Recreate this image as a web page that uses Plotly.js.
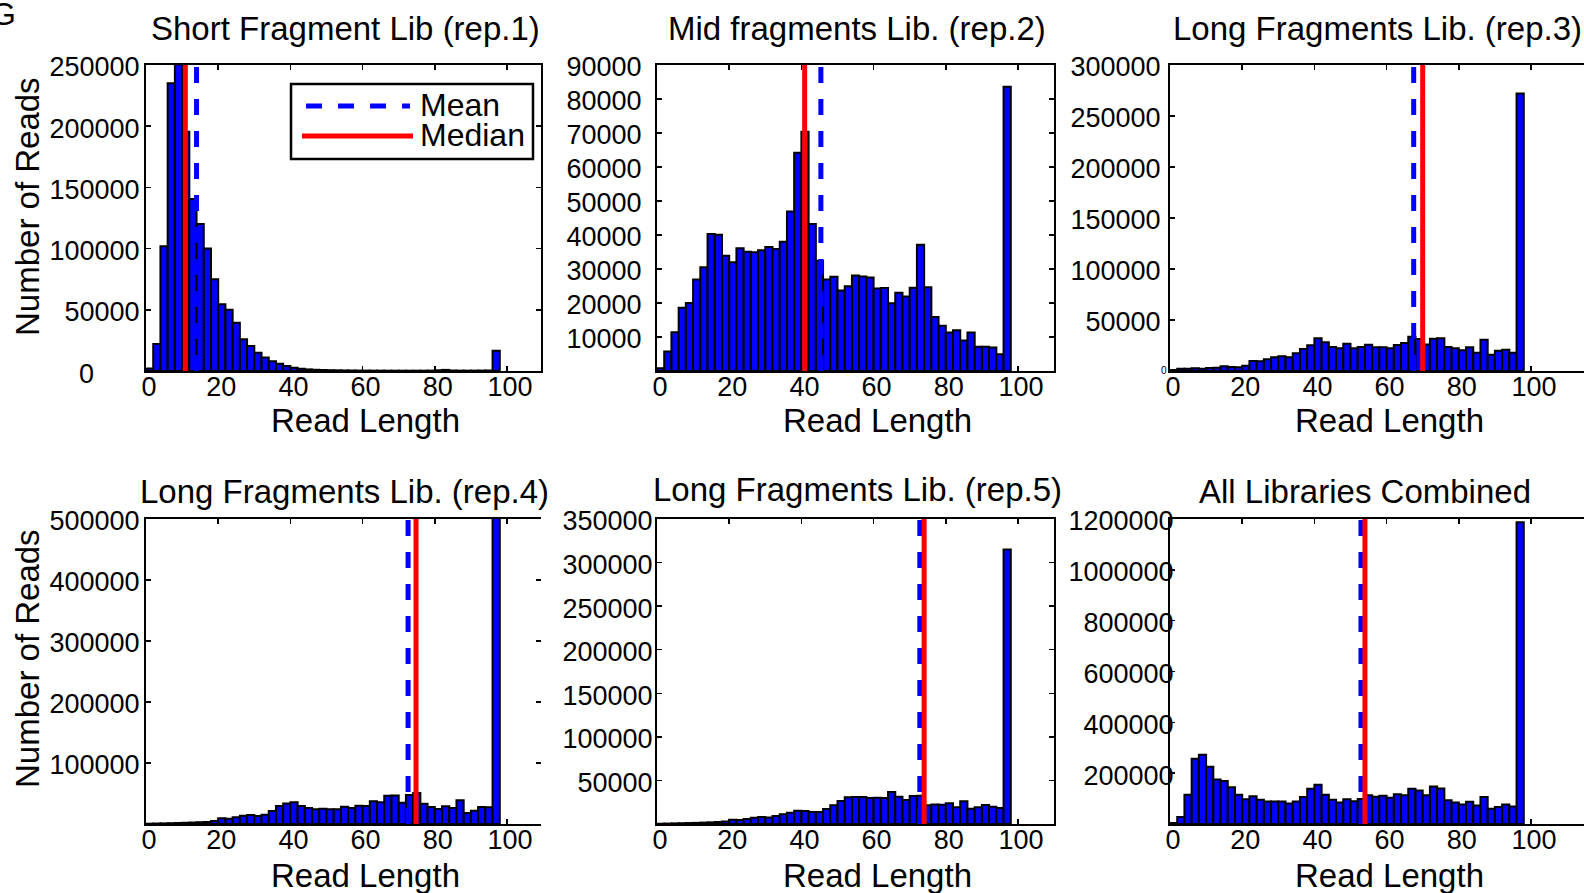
<!DOCTYPE html>
<html>
<head>
<meta charset="utf-8">
<script src="https://cdn.plot.ly/plotly-3.0.1.min.js"></script>
<style>
html, body { margin: 0; padding: 0; background: #ffffff; }
#chart { width: 1584px; height: 893px; }
</style>
</head>
<body>
<div id="chart"></div>
<script>
// ---------------- DATA ----------------
const binCenters = [1, 3, 5, 7, 9, 11, 13, 15, 17, 19, 21, 23, 25, 27, 29, 31, 33, 35, 37, 39,
  41, 43, 45, 47, 49, 51, 53, 55, 57, 59, 61, 63, 65, 67, 69, 71, 73, 75, 77, 79,
  81, 83, 85, 87, 89, 91, 93, 95, 97];

const panelTitles = [
  "Short Fragment Lib (rep.1)",
  "Mid fragments Lib. (rep.2)",
  "Long Fragments Lib. (rep.3)",
  "Long Fragments Lib. (rep.4)",
  "Long Fragments Lib. (rep.5)",
  "All Libraries Combined"
];
const xTitleText = "Read Length";
const yTitleText = "Number of Reads";
const legendLabels = ["Mean", "Median"];

const rep1Counts = [2000, 22000, 102000, 235000, 250500, 195500, 140500, 120000, 100000, 75000,
  54500, 50000, 39500, 26000, 20500, 15000, 11000, 8000, 6000, 4000,
  2700, 1900, 1300, 1000, 800, 650, 550, 450, 400, 350,
  320, 300, 280, 260, 250, 250, 240, 240, 250, 300,
  600, 900, 400, 300, 300, 300, 350, 400, 16600];

const rep2Counts = [800, 5700, 11400, 18600, 20000, 26900, 30500, 40300, 40100, 33900,
  32000, 36100, 35100, 34900, 35500, 36500, 35900, 38000, 46900, 64200,
  70400, 43200, 32400, 26900, 27700, 23700, 24900, 28100, 27800, 27500,
  24300, 24400, 19900, 23000, 21900, 24500, 37100, 24600, 15900, 13300,
  11300, 12000, 9000, 11300, 7100, 7100, 6900, 4900, 83600];

const rep3Counts = [1000, 2300, 2300, 2600, 2300, 3000, 3300, 4600, 3900, 3600,
  5200, 9800, 9500, 11400, 13400, 14400, 13400, 17300, 21600, 25200,
  32000, 28100, 23500, 22200, 26800, 22200, 23500, 25800, 23200, 23200,
  22200, 25500, 27500, 33700, 31400, 26100, 31700, 32000, 23500, 22200,
  20300, 23200, 18000, 30700, 16000, 19900, 20900, 18000, 272000];

const rep4Counts = [500, 800, 1000, 1300, 1600, 2000, 2400, 2900, 3300, 4800,
  9300, 8700, 10900, 13600, 14700, 13000, 15300, 21300, 29500, 33500,
  35500, 29500, 26200, 24000, 25100, 24000, 24000, 28400, 26200, 30000,
  29500, 37100, 35500, 46400, 46900, 34900, 47500, 50800, 33300, 27800,
  24600, 28900, 26200, 38800, 18000, 21800, 27800, 27300, 510000];

const rep5Counts = [300, 500, 700, 900, 1100, 1300, 1600, 1900, 2300, 2900,
  5000, 4600, 5700, 7300, 8000, 7600, 9200, 11100, 13000, 15300,
  14900, 13800, 13800, 17200, 21400, 26400, 30600, 31000, 31000, 29800,
  30200, 29800, 36700, 31300, 27500, 32100, 32500, 21400, 22500, 22200,
  23700, 19100, 26000, 17600, 19100, 21800, 19900, 18500, 315000];

const combinedCounts = [4000, 27500, 115000, 257000, 272000, 225000, 175500, 169000, 145000, 115000,
  97000, 109000, 95600, 89000, 89000, 89000, 81000, 89000, 106000, 139000,
  154600, 115000, 95600, 85000, 97000, 90000, 98000, 112700, 107000, 111000,
  103000, 116600, 112700, 139000, 132000, 112700, 148000, 140000, 93000, 85000,
  77000, 88000, 73000, 106000, 60000, 67000, 77000, 69000, 1187000];

const meanLengths   = [14.0, 45.4, 67.5, 72.6, 72.8, 52.9];
const medianLengths = [10.9, 40.9, 70.0, 74.8, 74.0, 54.0];

const yMaxValues = [250000, 90000, 300000, 500000, 350000, 1200000];
const yTickValues = [
  [50000, 100000, 150000, 200000, 250000],
  [10000, 20000, 30000, 40000, 50000, 60000, 70000, 80000, 90000],
  [50000, 100000, 150000, 200000, 250000, 300000],
  [100000, 200000, 300000, 400000, 500000],
  [50000, 100000, 150000, 200000, 250000, 300000, 350000],
  [200000, 400000, 600000, 800000, 1000000, 1200000]
];
const xTickValues = [0, 20, 40, 60, 80, 100];

const seriesCounts = [rep1Counts, rep2Counts, rep3Counts, rep4Counts, rep5Counts, combinedCounts];

// ---------------- LAYOUT ----------------
const W = 1584, H = 893;
const FONT = "Liberation Sans, Arial, Helvetica, sans-serif";
const PX_PER_UNIT = 3.61;
const colPx = [[146, 541], [657, 1054], [1170, 1584]];
const rowPx = [[65, 371], [519, 824]];
const titleCenterX = [345.5, 856.6, 1377.5, 344, 857.6, 1365.3];
const titleCenterY = [29, 29, 29, 491, 489, 491];
const xTitleCenterX = [365, 877, 1389];
const xTitleCenterY = [420, 875];
const yTitleCenter = [[27, 207], [27, 659]];
const yLabelStandoff = [-1, 8, 2, -1, -3, -11];

const px = v => v / W;
const py = v => 1 - v / H;

const traces = [];
const layout = {
  width: W, height: H,
  margin: {l: 0, r: 0, t: 0, b: 0, pad: 0},
  paper_bgcolor: "#ffffff",
  plot_bgcolor: "#ffffff",
  bargap: 0,
  barmode: "overlay",
  font: {family: FONT, color: "#000000"},
  showlegend: false,
  annotations: [],
  shapes: []
};

for (let i = 0; i < 6; i++) {
  const n = i + 1;
  const r = Math.floor(i / 3), c = i % 3;
  const sfx = n === 1 ? "" : String(n);
  const xa = "x" + sfx, ya = "y" + sfx;
  const xKey = "xaxis" + sfx, yKey = "yaxis" + sfx;

  traces.push({
    type: "bar", x: binCenters, y: seriesCounts[i], width: 2,
    xaxis: xa, yaxis: ya, name: panelTitles[i],
    marker: {color: "#0000ff", line: {color: "#000000", width: 2}}
  });
  traces.push({
    type: "scatter", mode: "lines", name: legendLabels[0],
    x: [meanLengths[i], meanLengths[i]], y: [0, yMaxValues[i]],
    xaxis: xa, yaxis: ya,
    line: {color: "#0000ff", width: 5, dash: "16px,16px"}
  });
  traces.push({
    type: "scatter", mode: "lines", name: legendLabels[1],
    x: [medianLengths[i], medianLengths[i]], y: [0, yMaxValues[i]],
    xaxis: xa, yaxis: ya,
    line: {color: "#ff0000", width: 5}
  });

  const xRangeMax = (colPx[c][1] - colPx[c][0]) / PX_PER_UNIT;
  layout[xKey] = {
    domain: [px(colPx[c][0]), Math.min(1, px(colPx[c][1]))],
    anchor: ya, range: [0, xRangeMax],
    tickvals: xTickValues, ticks: "inside", ticklen: 5, tickwidth: 1.5, tickcolor: "#000000",
    showline: true, linewidth: 2, linecolor: "#000000", mirror: "ticks",
    showgrid: false, zeroline: false, automargin: false,
    ticklabelstandoff: -9, ticklabelshift: 3,
    tickfont: {family: FONT, size: 27, color: "#000000"}
  };
  layout[yKey] = {
    domain: [py(rowPx[r][1]), py(rowPx[r][0])],
    anchor: xa, range: [0, yMaxValues[i]],
    tickvals: yTickValues[i], tickformat: "d",
    ticks: "inside", ticklen: 5, tickwidth: 1.5, tickcolor: "#000000",
    showline: true, linewidth: 2, linecolor: "#000000",
    mirror: (c === 2 || i === 3) ? false : "ticks",
    showgrid: false, zeroline: false, automargin: false,
    ticklabelstandoff: yLabelStandoff[i], ticklabelshift: 2,
    tickfont: {family: FONT, size: 27, color: "#000000"}
  };

  // subplot title
  layout.annotations.push({
    text: panelTitles[i], xref: "paper", yref: "paper",
    x: px(titleCenterX[i]), y: py(titleCenterY[i]),
    xanchor: "center", yanchor: "middle", showarrow: false,
    font: {family: FONT, size: 33, color: "#000000"}
  });
  // x axis title
  layout.annotations.push({
    text: xTitleText, xref: "paper", yref: "paper",
    x: px(xTitleCenterX[c]), y: py(xTitleCenterY[r]),
    xanchor: "center", yanchor: "middle", showarrow: false,
    font: {family: FONT, size: 33, color: "#000000"}
  });
}

// y axis titles (left column)
for (let r = 0; r < 2; r++) {
  layout.annotations.push({
    text: yTitleText, xref: "paper", yref: "paper", textangle: -90,
    x: px(yTitleCenter[r][0]), y: py(yTitleCenter[r][1]),
    xanchor: "center", yanchor: "middle", showarrow: false,
    font: {family: FONT, size: 33, color: "#000000"}
  });
}

// right-side ticks without a spine for panel 4
layout.yaxis7 = {
  overlaying: "y4", side: "right", anchor: "x4", range: [0, yMaxValues[3]],
  tickvals: yTickValues[3], ticks: "inside", ticklen: 5, tickwidth: 1.5, tickcolor: "#000000",
  showticklabels: false, showline: false, showgrid: false, zeroline: false
};
traces.push({type: "scatter", mode: "lines", x: [], y: [], xaxis: "x4", yaxis: "y7", hoverinfo: "skip"});

// stray zero labels as in the original figure
layout.annotations.push({
  text: "0", xref: "paper", yref: "paper", x: px(86), y: py(374),
  xanchor: "center", yanchor: "middle", showarrow: false,
  font: {family: FONT, size: 27, color: "#000000"}
});
layout.annotations.push({
  text: "0", xref: "paper", yref: "paper", x: px(1164), y: py(370),
  xanchor: "center", yanchor: "middle", showarrow: false,
  font: {family: FONT, size: 10, color: "#000000"}
});
// panel letter cut at the top-left corner
layout.annotations.push({
  text: "G", xref: "paper", yref: "paper", x: px(3), y: py(14),
  xanchor: "center", yanchor: "middle", showarrow: false,
  font: {family: FONT, size: 32, color: "#000000"}
});

// legend box (drawn in the MATLAB style, inside panel 1)
layout.shapes.push({type: "rect", xref: "paper", yref: "paper",
  x0: px(291), x1: px(533), y0: py(84), y1: py(159),
  line: {color: "#000000", width: 2.5}, fillcolor: "#ffffff", layer: "above"});
layout.shapes.push({type: "line", xref: "paper", yref: "paper",
  x0: px(306), x1: px(410), y0: py(106), y1: py(106),
  line: {color: "#0000ff", width: 5, dash: "16px,16px"}, layer: "above"});
layout.shapes.push({type: "line", xref: "paper", yref: "paper",
  x0: px(302), x1: px(413), y0: py(136), y1: py(136),
  line: {color: "#ff0000", width: 5}, layer: "above"});
layout.annotations.push({
  text: legendLabels[0], xref: "paper", yref: "paper", x: px(418), y: py(105),
  xanchor: "left", yanchor: "middle", showarrow: false,
  font: {family: FONT, size: 32, color: "#000000"}
});
layout.annotations.push({
  text: legendLabels[1], xref: "paper", yref: "paper", x: px(418), y: py(135),
  xanchor: "left", yanchor: "middle", showarrow: false,
  font: {family: FONT, size: 32, color: "#000000"}
});

Plotly.newPlot("chart", traces, layout, {displayModeBar: false, staticPlot: true});
</script>
</body>
</html>
